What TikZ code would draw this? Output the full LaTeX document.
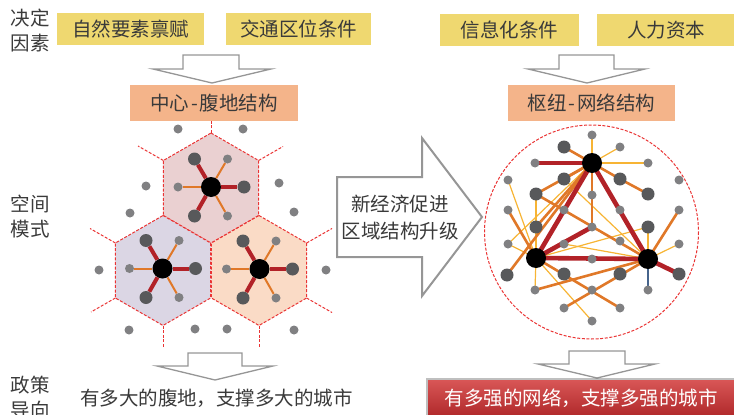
\documentclass[tikz,border=0pt]{standalone}
\usepackage{fontspec}
\setmainfont{Noto Sans CJK SC}
\usetikzlibrary{calc}
\definecolor{ybox}{RGB}{239,216,112}
\definecolor{sbox}{RGB}{244,180,138}
\definecolor{txtg}{RGB}{58,58,58}
\definecolor{hexA}{RGB}{234,208,209}
\definecolor{hexB}{RGB}{219,214,228}
\definecolor{hexC}{RGB}{250,219,198}
\definecolor{dashred}{RGB}{234,52,52}
\definecolor{darkn}{RGB}{88,89,91}
\definecolor{smalln}{RGB}{128,128,130}
\definecolor{linered}{RGB}{178,34,40}
\definecolor{lineor}{RGB}{224,120,40}
\definecolor{lineyel}{RGB}{247,180,52}
\definecolor{lineblue}{RGB}{70,100,140}
\definecolor{arrg}{RGB}{150,150,150}
\definecolor{redtop}{RGB}{216,86,86}
\definecolor{redbot}{RGB}{172,36,38}
\pgfdeclarelayer{bg}
\pgfdeclarelayer{edges}
\pgfsetlayers{bg,edges,main}
\newcommand{\hstar}[3]{%
  \node[blk] (#1) at (#2,#3) {};
  \node[dk] (#1a) at ($(#1)+(-16.5,-28)$) {};
  \node[sm] (#1b) at ($(#1)+(16.5,-28)$) {};
  \node[sm] (#1c) at ($(#1)+(-33,0)$) {};
  \node[dk] (#1d) at ($(#1)+(33,0)$) {};
  \node[dk] (#1e) at ($(#1)+(-16.5,29)$) {};
  \node[sm] (#1f) at ($(#1)+(16.5,29)$) {};
  \begin{pgfonlayer}{edges}
    \draw[hred] (#1) -- (#1a);
    \draw[hred] (#1) -- (#1d);
    \draw[hred] (#1) -- (#1e);
    \draw[hor] (#1) -- (#1b);
    \draw[hor] (#1) -- (#1c);
    \draw[hor] (#1) -- (#1f);
  \end{pgfonlayer}}
\begin{document}
\begin{tikzpicture}[x=1pt,y=-1pt,
  lbl/.style={font=\fontsize{19.5}{22}\selectfont, text=txtg, inner sep=0pt},
  ybx/.style={lbl, fill=ybox, minimum height=32pt},
  sbx/.style={lbl, fill=sbox, minimum height=36pt},
  blk/.style={circle, fill=black, inner sep=0pt, minimum size=20pt},
  dk/.style={circle, fill=darkn, inner sep=0pt, minimum size=13pt},
  sm/.style={circle, fill=smalln, inner sep=0pt, minimum size=9pt},
  hred/.style={line width=4pt, draw=linered},
  hor/.style={line width=2pt, draw=lineor},
  nred/.style={line width=4.6pt, draw=linered},
  nor/.style={line width=2.6pt, draw=lineor},
  nyel/.style={line width=1.2pt, draw=lineyel},
  nblue/.style={line width=1.8pt, draw=lineblue},
  rdash/.style={draw=dashred, line width=1pt, dash pattern=on 3pt off 1.6pt},
  hollow/.style={draw=arrg, fill=white, line width=1.3pt, line join=miter}]
\useasboundingbox (0,0) rectangle (734,415);

% left column labels
\node[lbl, align=center] (lab1) at (30,30.5) {决定\\[3pt]因素};
\node[lbl, align=center] (lab2) at (30,216.5) {空间\\[3pt]模式};
\node[lbl, align=center, anchor=north] (lab3) at (30,376) {政策\\[3pt]导向};

% factor boxes
\node[ybx, minimum width=147pt] (f1) at (130.5,29) {自然要素禀赋};
\node[ybx, minimum width=145pt] (f2) at (298.5,29) {交通区位条件};
\node[ybx, minimum width=139pt] (f3) at (509.5,30) {信息化条件};
\node[ybx, minimum width=138pt] (f4) at (666,30) {人力资本};

% hollow arrows
\draw[hollow] (183,55) -- (239,55) -- (239,69) -- (271,69) -- (212,83) -- (153,69) -- (183,69) -- cycle;
\draw[hollow] (559,55) -- (614,55) -- (614,69) -- (645,69) -- (587,83) -- (528,69) -- (559,69) -- cycle;
\draw[hollow] (188,353) -- (242,353) -- (242,366) -- (273,366) -- (215,380) -- (157,366) -- (188,366) -- cycle;
\draw[hollow] (569,351) -- (625,351) -- (625,364) -- (655,364) -- (597,378) -- (538,364) -- (569,364) -- cycle;

% structure boxes
\node[sbx, minimum width=168pt] (s1box) at (214,103) {中心\kern2pt-\kern2pt腹地结构};
\node[sbx, minimum width=167pt] (s2box) at (591.5,103) {枢纽\kern2pt-\kern2pt网络结构};

% middle arrow
\draw[draw=arrg, fill=white, line width=2pt, line join=miter] (337,177) -- (422,177) -- (422,138) -- (482,217) -- (422,296) -- (422,257) -- (337,257) -- cycle;
\node[lbl, align=center] (mid) at (400,218) {新经济促进\\[5pt]区域结构升级};

% hexagons
\begin{pgfonlayer}{bg}
\foreach \cx/\cy/\cc in {211/188/hexA, 163/270.5/hexB, 259/270.5/hexC}{
  \fill[\cc] (\cx,\cy-55) -- (\cx+47.6,\cy-27.5) -- (\cx+47.6,\cy+27.5) -- (\cx,\cy+55) -- (\cx-47.6,\cy+27.5) -- (\cx-47.6,\cy-27.5) -- cycle;
  \draw[rdash] (\cx,\cy-55) -- (\cx+47.6,\cy-27.5) -- (\cx+47.6,\cy+27.5) -- (\cx,\cy+55) -- (\cx-47.6,\cy+27.5) -- (\cx-47.6,\cy-27.5) -- cycle;
}
\draw[rdash] (211,133) -- (211,121);
\draw[rdash] (163.4,160.5) -- (138,146);
\draw[rdash] (258.6,160.5) -- (283,146.5);
\draw[rdash] (115.4,243) -- (90,228.5);
\draw[rdash] (115.4,298) -- (91,312);
\draw[rdash] (163,325.5) -- (163,348);
\draw[rdash] (259,325.5) -- (259,348);
\draw[rdash] (306.6,243) -- (332,228.5);
\draw[rdash] (306.6,298) -- (332,312.5);
\end{pgfonlayer}

\hstar{ha}{211}{187}
\hstar{hb}{162.5}{268.5}
\hstar{hc}{259.5}{269}

% outer dots
\foreach \px/\py [count=\i] in {178/129, 243/129, 146/186, 279/183, 130/213, 294/212, 99/270, 326/270, 129/330, 195/329, 227/329, 294/330}{
  \node[sm] (o\i) at (\px,\py) {};
}

% network
\draw[rdash] (591.5,232) circle[radius=107];
\node[blk] (T) at (592,163) {};
\node[blk] (L) at (536,258) {};
\node[blk] (R) at (648,259) {};
\foreach \nm/\px/\py in {s1/592/135, s2/620/147, s3/535/163, s4/648/163, s5/508/180, s6/679/180, s7/592/195, s8/564/210, s9/620/210, s10/508/210, s11/679/210, s12/592/227, s13/508/244, s14/564/244, s15/620/241, s16/679/244, s17/592/259, s18/535/290, s19/648/290, s20/592/290, s21/564/308, s22/620/308, s23/592/321}{
  \node[sm] (\nm) at (\px,\py) {};
}
\foreach \nm/\px/\py in {d1/564/147, d2/564/179, d3/620/179, d4/648/194, d5/536/194, d6/536/227, d7/648/227, d8/507/275, d9/564/274, d10/620/274, d11/679/274}{
  \node[dk] (\nm) at (\px,\py) {};
}
\begin{pgfonlayer}{edges}
\foreach \a/\b in {T/s1, T/s2, T/s4, s5/L, s13/L, s13/T, d5/L, L/s18, L/s23, d2/R, L/d7, d7/R, s14/R, s16/R}
  \draw[nyel] (\a.center) -- (\b.center);
\foreach \a/\b in {T/d1, T/d2, T/d3, d3/d4, T/d5, T/d6, T/d8, T/s12, d5/R, s10/L, s18/R, L/s22, R/s21, s11/R}
  \draw[nor] (\a.center) -- (\b.center);
\foreach \a/\b in {T/s3, T/L, T/R, L/R, L/s12, R/d11}
  \draw[nred] (\a.center) -- (\b.center);
\draw[nblue] (R.center) -- (s19.center);
\end{pgfonlayer}

% bottom texts
\node[lbl] (pol1) at (216.5,398) {有多大的腹地，支撑多大的城市};
\fill[black, opacity=0.25] (426,378) rectangle (736,420);
\shade[top color=redtop, bottom color=redbot] (428,380) rectangle (734,420);
\node[lbl, text=white] (pol2) at (581,398) {有多强的网络，支撑多强的城市};
\end{tikzpicture}
\end{document}
